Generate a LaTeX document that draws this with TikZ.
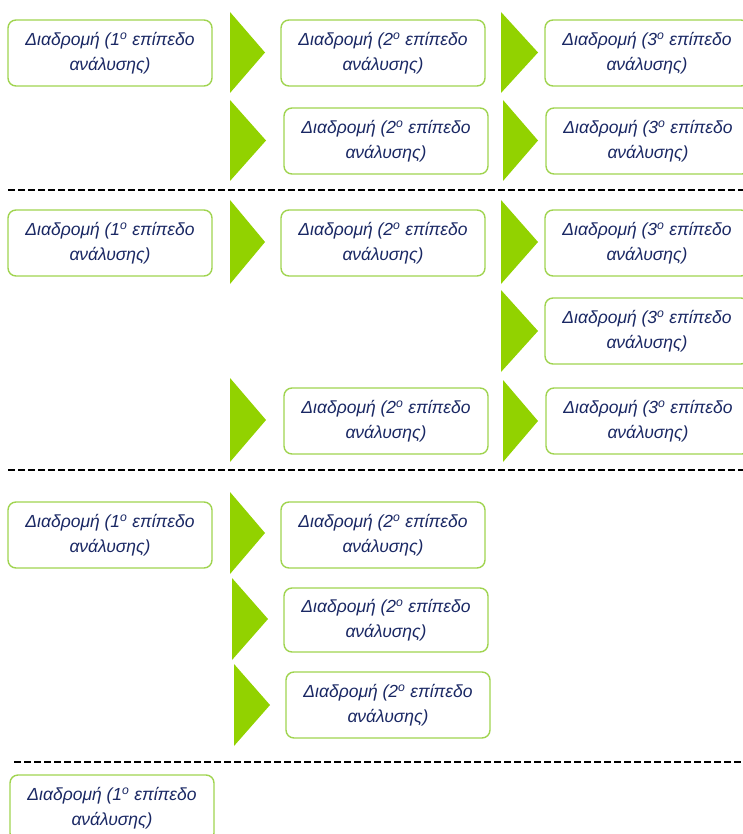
\documentclass[tikz,border=0pt]{standalone}
\usepackage{fontspec}
\setmainfont{Liberation Sans}
\definecolor{boxline}{RGB}{160,212,80}
\definecolor{trifill}{RGB}{146,210,0}
\definecolor{txt}{RGB}{26,40,100}
\tikzset{
  route/.style={draw=boxline, line width=1.4pt, rounded corners=8pt, fill=white,
    minimum width=204pt, minimum height=66pt, inner sep=0pt, align=center,
    text=txt, font=\fontsize{17.5}{25}\selectfont\itshape},
  sep/.style={draw=black, line width=1.8pt, dash pattern=on 7pt off 3pt},
  tri/.style={fill=trifill, draw=none}
}
\newcommand{\tri}[4]{\fill[tri] (#1,#2) -- (#4,{(#2+#3)/2}) -- (#1,#3) -- cycle;}
\newcommand{\rtext}[1]{Διαδρομή (#1\textsuperscript{o} επίπεδο\\ανάλυσης)}
\begin{document}
\begin{tikzpicture}[x=1pt,y=-1pt]
\useasboundingbox (0,0) rectangle (743,834);
% section 1
\node[route] (a1) at (110,53) {\rtext{1}};
\node[route] (b1) at (383,53) {\rtext{2}};
\node[route] (c1) at (647,53) {\rtext{3}};
\node[route] (b2) at (386,141) {\rtext{2}};
\node[route] (c2) at (648,141) {\rtext{3}};
\tri{230}{12}{93}{265}
\tri{230}{100}{181}{266}
\tri{501}{12}{93}{538}
\tri{503}{100}{181}{538}
\coordinate (d1l) at (8,190); \coordinate (d1r) at (743,190);
\draw[sep] (d1l) -- (d1r);
% section 2
\node[route] (a2) at (110,243) {\rtext{1}};
\node[route] (b3) at (383,243) {\rtext{2}};
\node[route] (c3) at (647,243) {\rtext{3}};
\node[route] (c4) at (647,331) {\rtext{3}};
\node[route] (b4) at (386,421) {\rtext{2}};
\node[route] (c5) at (648,421) {\rtext{3}};
\tri{230}{200}{284}{265}
\tri{501}{200}{284}{538}
\tri{501}{290}{372}{538}
\tri{230}{378}{462}{266}
\tri{503}{380}{462}{538}
\coordinate (d2l) at (8,470); \coordinate (d2r) at (743,470);
\draw[sep] (d2l) -- (d2r);
% section 3
\node[route] (a3) at (110,535) {\rtext{1}};
\node[route] (b5) at (383,535) {\rtext{2}};
\node[route, minimum height=64pt] (b6) at (386,620) {\rtext{2}};
\node[route] (b7) at (388,705) {\rtext{2}};
\tri{230}{492}{574}{265}
\tri{232}{578}{660}{268}
\tri{234}{664}{746}{270}
\coordinate (d3l) at (14,762); \coordinate (d3r) at (743,762);
\draw[sep] (d3l) -- (d3r);
% section 4
\node[route] (a4) at (112,808) {\rtext{1}};
\end{tikzpicture}
\end{document}
